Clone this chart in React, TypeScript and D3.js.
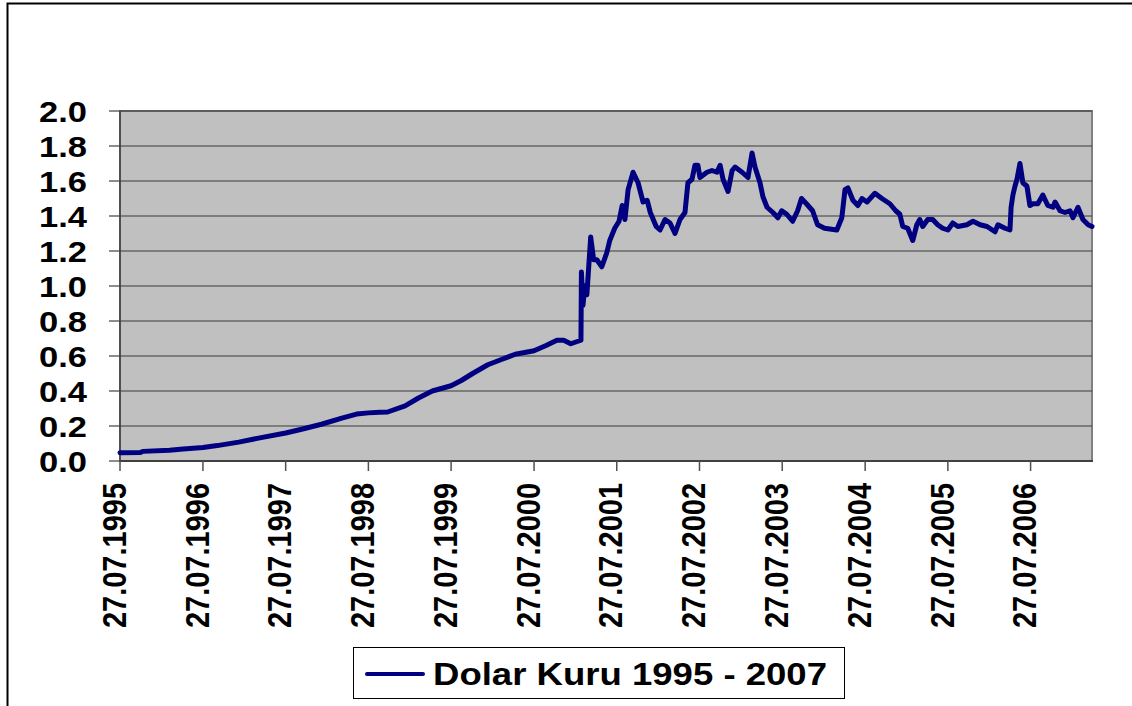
import React from "react";
import * as d3 from "d3";

const dates: string[] = [
  "1995-07-27","1995-10-25","1995-11-05","1996-03-01","1996-05-01","1996-07-27","1996-09-28","1997-01-01","1997-04-04","1997-07-27",
  "1997-10-01","1998-01-01","1998-04-01","1998-06-05","1998-07-27","1998-09-15","1998-10-20","1999-01-05","1999-03-05","1999-05-05",
  "1999-07-27","1999-09-10","1999-10-30","2000-01-05","2000-03-05","2000-05-05","2000-07-27","2000-09-18","2000-11-05","2000-12-05",
  "2001-01-05","2001-02-19","2001-02-21","2001-02-28","2001-03-08","2001-03-17","2001-04-03","2001-04-16","2001-04-30","2001-05-22",
  "2001-06-13","2001-06-26","2001-07-18","2001-08-06","2001-08-20","2001-09-01","2001-09-15","2001-10-07","2001-10-29","2001-11-20",
  "2001-12-08","2001-12-22","2002-01-17","2002-02-03","2002-02-25","2002-03-19","2002-04-10","2002-05-02","2002-05-24","2002-06-06",
  "2002-06-24","2002-07-07","2002-07-20","2002-07-29","2002-08-29","2002-09-20","2002-10-12","2002-10-26","2002-11-08","2002-11-30",
  "2002-12-18","2002-12-31","2003-01-31","2003-02-26","2003-03-16","2003-03-29","2003-04-20","2003-05-03","2003-05-21","2003-06-16",
  "2003-07-08","2003-07-25","2003-08-16","2003-09-11","2003-10-03","2003-10-20","2003-11-11","2003-12-08","2003-12-30","2004-01-30",
  "2004-03-24","2004-04-15","2004-04-29","2004-05-12","2004-06-03","2004-06-25","2004-07-13","2004-08-04","2004-09-08","2004-10-09",
  "2004-11-13","2004-12-09","2004-12-27","2005-01-09","2005-01-31","2005-02-22","2005-03-12","2005-03-25","2005-04-07","2005-04-29",
  "2005-05-21","2005-06-12","2005-07-04","2005-07-27","2005-08-18","2005-09-09","2005-10-19","2005-11-15","2005-12-16","2006-01-16",
  "2006-02-20","2006-03-05","2006-04-05","2006-04-27","2006-05-02","2006-05-10","2006-05-19","2006-05-28","2006-06-10","2006-06-23",
  "2006-07-11","2006-07-24","2006-08-06","2006-08-28","2006-09-19","2006-10-11","2006-11-03","2006-11-12","2006-12-04","2006-12-26",
  "2007-01-17","2007-01-30","2007-02-21","2007-03-15","2007-04-07","2007-04-24"
];

const values: number[] = [
  0.047,0.048,0.055,0.062,0.068,0.077,0.088,0.108,0.132,0.160,
  0.180,0.210,0.245,0.268,0.275,0.278,0.280,0.315,0.360,0.400,
  0.430,0.460,0.500,0.550,0.580,0.610,0.630,0.660,0.690,0.690,
  0.670,0.690,1.080,0.890,1.000,0.950,1.280,1.150,1.150,1.110,
  1.190,1.260,1.330,1.370,1.460,1.380,1.550,1.650,1.590,1.480,
  1.490,1.420,1.340,1.320,1.380,1.360,1.300,1.380,1.420,1.590,
  1.610,1.690,1.690,1.620,1.650,1.660,1.650,1.690,1.610,1.540,
  1.660,1.680,1.650,1.620,1.760,1.680,1.590,1.510,1.450,1.420,
  1.390,1.430,1.410,1.370,1.430,1.500,1.470,1.430,1.350,1.330,
  1.320,1.390,1.550,1.560,1.490,1.460,1.500,1.480,1.530,1.500,
  1.470,1.430,1.410,1.340,1.330,1.260,1.350,1.380,1.340,1.380,
  1.380,1.350,1.330,1.320,1.360,1.340,1.350,1.370,1.350,1.340,
  1.310,1.350,1.330,1.320,1.450,1.520,1.570,1.610,1.700,1.590,
  1.570,1.460,1.470,1.470,1.520,1.460,1.450,1.480,1.430,1.420,
  1.430,1.390,1.450,1.380,1.350,1.340
];

const xTickLabels: string[] = [
  "27.07.1995","27.07.1996","27.07.1997","27.07.1998","27.07.1999","27.07.2000",
  "27.07.2001","27.07.2002","27.07.2003","27.07.2004","27.07.2005","27.07.2006"
];

const yTicks: number[] = [0, 0.2, 0.4, 0.6, 0.8, 1.0, 1.2, 1.4, 1.6, 1.8, 2.0];

const seriesName = "Dolar Kuru 1995 - 2007";
const domainStart = "1995-07-27";
const domainEnd = "2007-04-24";

export default function App() {
  const W = 1132, H = 706;
  const left = 120, right = 1092, top = 111, bottom = 461;
  const parse = d3.timeParse("%Y-%m-%d");
  const parseTick = d3.timeParse("%d.%m.%Y");
  const x = d3.scaleTime().domain([parse(domainStart)!, parse(domainEnd)!]).range([left, right]);
  const y = d3.scaleLinear().domain([0, 2]).range([bottom, top]);
  const pts: [Date, number][] = dates.map((d, i) => [parse(d)!, values[i]]);
  const line = d3.line<[Date, number]>().x(d => x(d[0])).y(d => y(d[1]));
  const font = "'Liberation Sans', Arial, sans-serif";
  const navy = "#000080";

  return (
    <svg width={W} height={H} style={{ position: "absolute", left: 0, top: 0, background: "#fff" }}>
      <rect x={7.5} y={3.5} width={1140} height={720} fill="#fff" stroke="#000" strokeWidth={2} />
      <rect x={left} y={top} width={right - left} height={bottom - top} fill="#C0C0C0" stroke="#808080" strokeWidth={2} />
      {yTicks.map((t, i) => (
        <line key={"g" + i} x1={left} x2={right} y1={y(t)} y2={y(t)} stroke="#3a3a3a" strokeWidth={1.2} />
      ))}
      {yTicks.map((t, i) => (
        <line key={"yt" + i} x1={left - 11} x2={left} y1={y(t)} y2={y(t)} stroke="#404040" strokeWidth={1.2} />
      ))}
      <line x1={left} x2={left} y1={top} y2={bottom} stroke="#404040" strokeWidth={1.5} />
      <line x1={left} x2={right + 1} y1={bottom} y2={bottom} stroke="#404040" strokeWidth={2} />
      {xTickLabels.map((l, i) => {
        const tx = x(parseTick(l)!);
        return <line key={"xt" + i} x1={tx} x2={tx} y1={bottom} y2={bottom + 10} stroke="#505050" strokeWidth={1.5} />;
      })}
      <path d={line(pts) || ""} fill="none" stroke={navy} strokeWidth={5} strokeLinejoin="round" strokeLinecap="round" />
      {yTicks.map((t, i) => (
        <text key={"yl" + i} transform={`translate(87,${y(t)}) scale(1.15,1)`} textAnchor="end" dy="0.36em"
          fontFamily={font} fontWeight="bold" fontSize={30} fill="#000">{t.toFixed(1)}</text>
      ))}
      {xTickLabels.map((l, i) => {
        const tx = x(parseTick(l)!) - 6;
        return (
          <text key={"xl" + i} transform={`translate(${tx},483) scale(1.12,1) rotate(-90)`} textAnchor="end" dy="0.36em"
            fontFamily={font} fontWeight="bold" fontSize={29} fill="#000">{l}</text>
        );
      })}
      <rect x={353.5} y={647.5} width={491} height={51} fill="#fff" stroke="#000" strokeWidth={1} />
      <line x1={367} x2={423} y1={674} y2={674} stroke={navy} strokeWidth={4} strokeLinecap="round" />
      <text x={433} y={685} fontFamily={font} fontWeight="bold" fontSize={31} fill="#000"
        textLength={394} lengthAdjust="spacingAndGlyphs">{seriesName}</text>
    </svg>
  );
}
